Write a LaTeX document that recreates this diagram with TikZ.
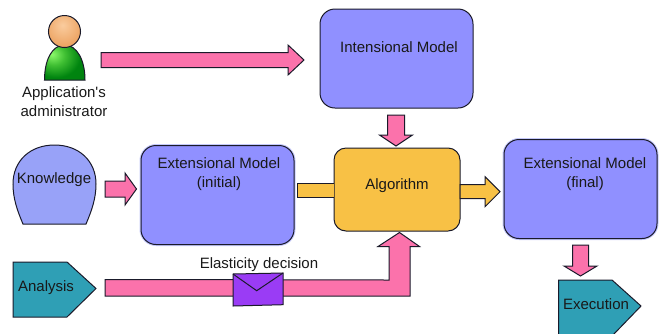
\documentclass[tikz,border=0pt]{standalone}
\usepackage{fontspec}
\setmainfont{Liberation Sans}
\newfontfamily\arialplain{Liberation Sans}
\usetikzlibrary{calc}
\definecolor{boxblue}{HTML}{9090FF}
\definecolor{boxglow}{HTML}{C4C8FA}
\definecolor{knowblue}{HTML}{98A2F8}
\definecolor{algoyellow}{HTML}{F8C145}
\definecolor{arrowpink}{HTML}{FB72AB}
\definecolor{tealbox}{HTML}{2F9FB5}
\definecolor{envpurple}{HTML}{9A3CF5}
\definecolor{linedark}{HTML}{1A1A2A}
\pgfdeclareradialshading{bodyshade}{\pgfpoint{-16bp}{12bp}}{%
  rgb(0bp)=(0.55,0.98,0.42);
  rgb(14bp)=(0.25,0.75,0.2);
  rgb(30bp)=(0.0,0.52,0.06);
  rgb(100bp)=(0.0,0.45,0.05)}
\pgfdeclareradialshading{headshade}{\pgfpoint{-3bp}{10bp}}{%
  rgb(0bp)=(0.98,0.80,0.62);
  rgb(28bp)=(0.93,0.65,0.40);
  rgb(100bp)=(0.88,0.55,0.30)}
\tikzset{
  px/.style={x=1pt,y=-1pt},
  outline/.style={draw=linedark,line width=1pt,line join=miter},
  modelbox/.style={outline,fill=boxblue,rectangle,rounded corners=15pt,minimum width=153pt,minimum height=99pt,inner sep=0pt},
  glowbox/.style={modelbox,preaction={draw=boxglow,line width=3pt}},
  algobox/.style={outline,fill=algoyellow,rectangle,rounded corners=12pt,minimum width=126pt,minimum height=83pt,inner sep=0pt},
  txt/.style={font=\fontsize{15}{19}\selectfont\arialplain,text=black!90,inner sep=0pt,align=center},
  blockpink/.style={outline,fill=arrowpink},
  blockyellow/.style={outline,fill=algoyellow},
  pentshape/.style={outline,fill=tealbox},
}
% from, to, shaft half width, head half width, head length, style
\newcommand{\blockarrow}[6]{%
  \draw[#6]
    ($(#1)!#3pt!90:(#2)$) --
    ($($(#2)!#5pt!(#1)$)!#3pt!90:(#2)$) --
    ($($(#2)!#5pt!(#1)$)!#4pt!90:(#2)$) --
    (#2) --
    ($($(#2)!#5pt!(#1)$)!#4pt!-90:(#2)$) --
    ($($(#2)!#5pt!(#1)$)!#3pt!-90:(#2)$) --
    ($(#1)!#3pt!-90:(#2)$) -- cycle;%
}
\begin{document}
\begin{tikzpicture}[px]
\useasboundingbox (0,0) rectangle (660,333);
\clip (0,0) rectangle (660,333);
% boxes
\node[modelbox] (intensional) at (396.5,58.5) {};
\node[glowbox] (extinit) at (217.5,195) {};
\node[glowbox] (extfinal) at (580.5,189) {};
\node[algobox] (algorithm) at (397,189.5) {};
% person
\draw[outline,shading=bodyshade]
  (44.5,80) .. controls (44.5,60) and (52,45) .. (64.5,45) .. controls (77,45) and (85,60) .. (85,80) -- cycle;
\node[outline,circle,minimum size=32pt,inner sep=0pt,shading=headshade] (head) at (64.5,31.5) {};
% knowledge
\draw[outline,fill=knowblue]
  (23,224) .. controls (17,210) and (13,198) .. (13,184)
  .. controls (13,161) and (30,145) .. (54.5,145)
  .. controls (79,145) and (96,161) .. (96,184)
  .. controls (96,198) and (92,210) .. (86,224) -- cycle;
% pentagons
\draw[pentshape] (13,262) -- (67,262) -- (96,288.5) -- (67,317) -- (13,317) -- cycle;
\draw[pentshape] (558.5,280) -- (612,280) -- (641,306) -- (612,336) -- (558.5,336) -- cycle;
% free arrow ends
\coordinate (a1s) at (101,60);
\coordinate (a1e) at (304,60);
\coordinate (a2s) at (396,115);
\coordinate (a2e) at (396,146);
\coordinate (a3s) at (105,189);
\coordinate (a3e) at (136.5,189);
\coordinate (a4s) at (460,191.7);
\coordinate (a4e) at (500,191.7);
\coordinate (a5s) at (580.5,245);
\coordinate (a5e) at (580.5,276);
\blockarrow{a1s}{a1e}{7.5}{15}{16}{blockpink}
\blockarrow{a2s}{a2e}{8.5}{16.5}{11}{blockpink}
\blockarrow{a3s}{a3e}{8}{16}{11.5}{blockpink}
\blockarrow{a4s}{a4e}{7}{15}{15}{blockyellow}
\blockarrow{a5s}{a5e}{8}{16.5}{10}{blockpink}
% yellow stub
\draw[blockyellow] (334,183) -- (297,183) -- (297,197) -- (334,197);
% L arrow
\draw[blockpink] (105,279.5) -- (389,280) -- (389,246.5) -- (378,246.5) -- (399.5,232.5) -- (419.5,246.5) -- (410,246.5) -- (410,296) -- (105,296) -- cycle;
% envelope
\draw[outline,fill=envpurple] (233,274) -- (283,273) -- (283,304.7) -- (233,306) -- cycle;
\draw[outline] (233,274) -- (256.7,290.7) -- (283,273);
% texts
\node[txt] (tadmin) at (64,102) {Application's\\administrator};
\node[txt] (tint) at (399,47) {Intensional Model};
\node[txt] (tinit) at (219,174) {Extensional Model\\(initial)};
\node[txt] (tfinal) at (585,174.5) {Extensional Model\\(final)};
\node[txt] (tknow) at (54,179.5) {Knowledge};
\node[txt] (talgo) at (397,185.5) {Algorithm};
\node[txt] (tanal) at (46,287.5) {Analysis};
\node[txt] (texec) at (596,304) {Execution};
\node[txt] (telas) at (259,264.5) {Elasticity decision};
\end{tikzpicture}
\end{document}
